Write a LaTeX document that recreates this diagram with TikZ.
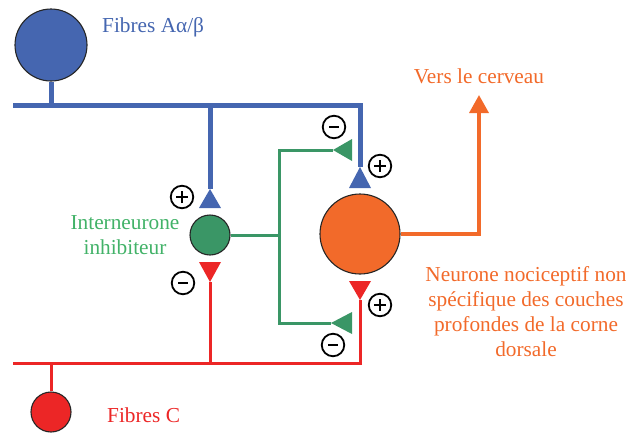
\documentclass[tikz,border=0pt]{standalone}
\usepackage{fontspec}
\setmainfont{Liberation Serif}
\usetikzlibrary{arrows.meta}
\definecolor{cblue}{RGB}{69,102,176}
\definecolor{cgreen}{RGB}{58,150,102}
\definecolor{cgtext}{RGB}{66,178,104}
\definecolor{corange}{RGB}{242,106,42}
\definecolor{cred}{RGB}{236,38,38}
\tikzset{
  soma/.style={circle, draw=black!85, line width=1.1pt, inner sep=0pt},
  bline/.style={draw=cblue, line width=5pt, miter limit=10},
  gline/.style={draw=cgreen, line width=3pt},
  rline/.style={draw=cred, line width=3pt},
  oline/.style={draw=corange, line width=3.5pt},
  lbl/.style={inner sep=0pt, font=\fontsize{21.3}{25}\selectfont},
  sign/.style={circle, draw=black, line width=1.8pt, minimum size=22.5pt, inner sep=0pt},
  plus/.style={sign, path picture={
     \draw[line width=2.1pt] ([xshift=-6pt]path picture bounding box.center) -- ([xshift=6pt]path picture bounding box.center);
     \draw[line width=2.1pt] ([yshift=-6pt]path picture bounding box.center) -- ([yshift=6pt]path picture bounding box.center);}},
  minus/.style={sign, path picture={
     \draw[line width=2.1pt] ([xshift=-5pt]path picture bounding box.center) -- ([xshift=5pt]path picture bounding box.center);}}
}
\begin{document}
\begin{tikzpicture}[x=1pt,y=-1pt]
\useasboundingbox (0,0) rectangle (626,432);
% somas
\node[soma, fill=cblue, minimum size=72pt] (A) at (51,45) {};
\node[soma, fill=cred, minimum size=40pt] (C) at (51,412) {};
\node[soma, fill=cgreen, minimum size=40pt] (G) at (210,235) {};
\node[soma, fill=corange, minimum size=80pt] (O) at (360,234) {};
% coordinates
\coordinate (bL) at (13,105);
\coordinate (bA) at (51,105);
\coordinate (bM) at (210,105);
\coordinate (bR) at (360,105);
\coordinate (t1) at (210,189);
\coordinate (t2) at (360,167);
\coordinate (rL) at (13,363);
\coordinate (rC) at (51,363);
\coordinate (rM) at (210,363);
\coordinate (rR) at (360,363);
\coordinate (r1) at (210,282);
\coordinate (r2) at (360,300);
\coordinate (gJ) at (279,235);
\coordinate (gT) at (279,150);
\coordinate (gB) at (279,323);
\coordinate (g1) at (333,150);
\coordinate (g2) at (331,323);
\coordinate (oC) at (479,234);
\coordinate (oT) at (479,95);
% blue fibres
\draw[bline] (A.south) -- (bA);
\draw[bline] (bL) -- (bR) -- (t2);
\draw[bline] (bM) -- (t1);
\fill[cblue] (t1) -- (221,208) -- (199,208) -- cycle;
\fill[cblue] (t2) -- (371,188) -- (349,188) -- cycle;
% red fibres
\draw[rline] (C.north) -- (rC);
\draw[rline] (rL) -- (rR) -- (r2);
\draw[rline] (rM) -- (r1);
\fill[cred] (r1) -- (199,262) -- (221,262) -- cycle;
\fill[cred] (r2) -- (349,281) -- (371,281) -- cycle;
% green interneuron
\draw[gline] (G.east) -- (gJ);
\draw[gline] (g1) -- (gT) -- (gB) -- (g2);
\fill[cgreen] (g1) -- (352,139) -- (352,161) -- cycle;
\fill[cgreen] (g2) -- (352,312) -- (352,334) -- cycle;
% orange output
\draw[oline, -{Triangle[width=19pt,length=18pt]}] (O.east) -- (oC) -- (oT);
% signs
\node[plus] (s1) at (182,197) {};
\node[minus] (s2) at (334,127) {};
\node[plus] (s3) at (380,166) {};
\node[minus] (s4) at (183,283) {};
\node[plus] (s5) at (380,305) {};
\node[minus] (s6) at (333,345) {};
% labels
\node[lbl, text=cblue, anchor=west] (lA) at (102,27) {Fibres Aα/β};
\node[lbl, text=cred, anchor=west] (lC) at (107,415) {Fibres C};
\node[lbl, text=cgtext, align=center] (lG) at (125,235) {Interneurone\\inhibiteur};
\node[lbl, text=corange] (lV) at (479,76) {Vers le cerveau};
\node[lbl, text=corange, align=center] (lO) at (526,312) {Neurone nociceptif non\\spécifique des couches\\profondes de la corne\\dorsale};
\end{tikzpicture}
\end{document}
